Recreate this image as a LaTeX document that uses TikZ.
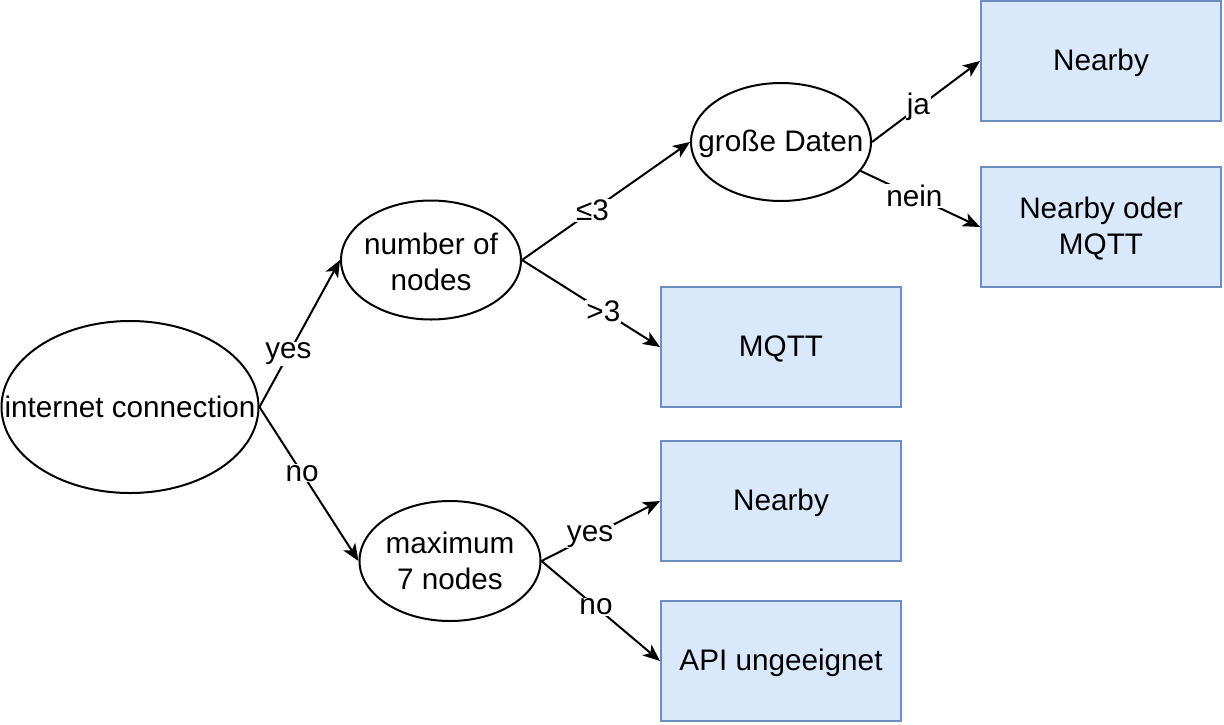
\documentclass[tikz,border=0pt]{standalone}
\usepackage{fontspec}
\setmainfont{Liberation Sans}
\usetikzlibrary{shapes.geometric,arrows.meta}

\definecolor{boxfill}{HTML}{DAE8FC}
\definecolor{boxline}{HTML}{6C8EBF}
\newcommand{\diafont}{\fontsize{29.7}{36}\selectfont}

\tikzset{
  question/.style={ellipse,draw,line width=2pt,inner sep=0pt},
  answer/.style={rectangle,draw=boxline,fill=boxfill,line width=2pt,
    minimum width=240pt,minimum height=120pt,font=\diafont,align=center},
}

\begin{document}
\begin{tikzpicture}[x=1pt,y=-1pt]
				\useasboundingbox (0,0) rectangle (1224,724);

				\begin{scope}[every label/.style={font=\diafont,align=center,inner sep=0pt}]
                    \node[question,minimum width=257pt,minimum height=172pt,label=center:{internet connection}] (IC) at (130,407) {};
                    \node[question,minimum width=180pt,minimum height=119pt,label={[yshift=-2pt]center:{number of\\nodes}}] (NN) at (431,260) {};
                    \node[question,minimum width=180pt,minimum height=118pt,label={[yshift=-2pt]center:{große Daten}}] (GD) at (781,142) {};
                    \node[question,minimum width=181pt,minimum height=120pt,label=center:{maximum\\7 nodes}] (MX) at (450,561) {};
                \end{scope}

                \begin{scope}[every label/.style={font=\diafont,align=center,inner sep=0pt}]
                    \node[answer,label={[yshift=-2pt]center:{Nearby}}] (NB1) at (1101,61) {};
                    \node[answer,label={[yshift=-2pt]center:{Nearby oder\\MQTT}}] (NBM) at (1101,227) {};
                    \node[answer,label={[yshift=-2pt]center:{MQTT}}] (MQ) at (781,347) {};
                    \node[answer,label={[yshift=-2pt]center:{Nearby}}] (NB2) at (781,501) {};
                    \node[answer,label={[yshift=-2pt]center:{API ungeeignet}}] (API) at (781,661) {};
                \end{scope}

                \begin{scope}[>={Stealth[length=17pt,width=14pt,inset=4.5pt]},
                every edge/.style={draw=black,line width=2pt},
                every node/.style={fill=white,font=\diafont,inner sep=1pt}]
                    \path [->] (IC.east) edge node[pos=0.36] {yes} (NN.west);
                    \path [->] (IC.east) edge node[pos=0.43] {no} (MX.west);

                    \path [->] (NN.east) edge node[pos=0.42] {≤3} (GD.west);
                    \path [->] (NN.east) edge node[pos=0.59] {>3} (MQ.west);

                    \path [->] (GD.east) edge node[pos=0.43] {ja} (NB1.west);
                    \path [->] (GD.-20) edge node[pos=0.45] {nein} (NBM.west);

                    \path [->] (MX.east) edge node[pos=0.41] {yes} (NB2.west);
                    \path [->] (MX.east) edge node[pos=0.46] {no} (API.west);
                \end{scope}
			\end{tikzpicture}
\end{document}
